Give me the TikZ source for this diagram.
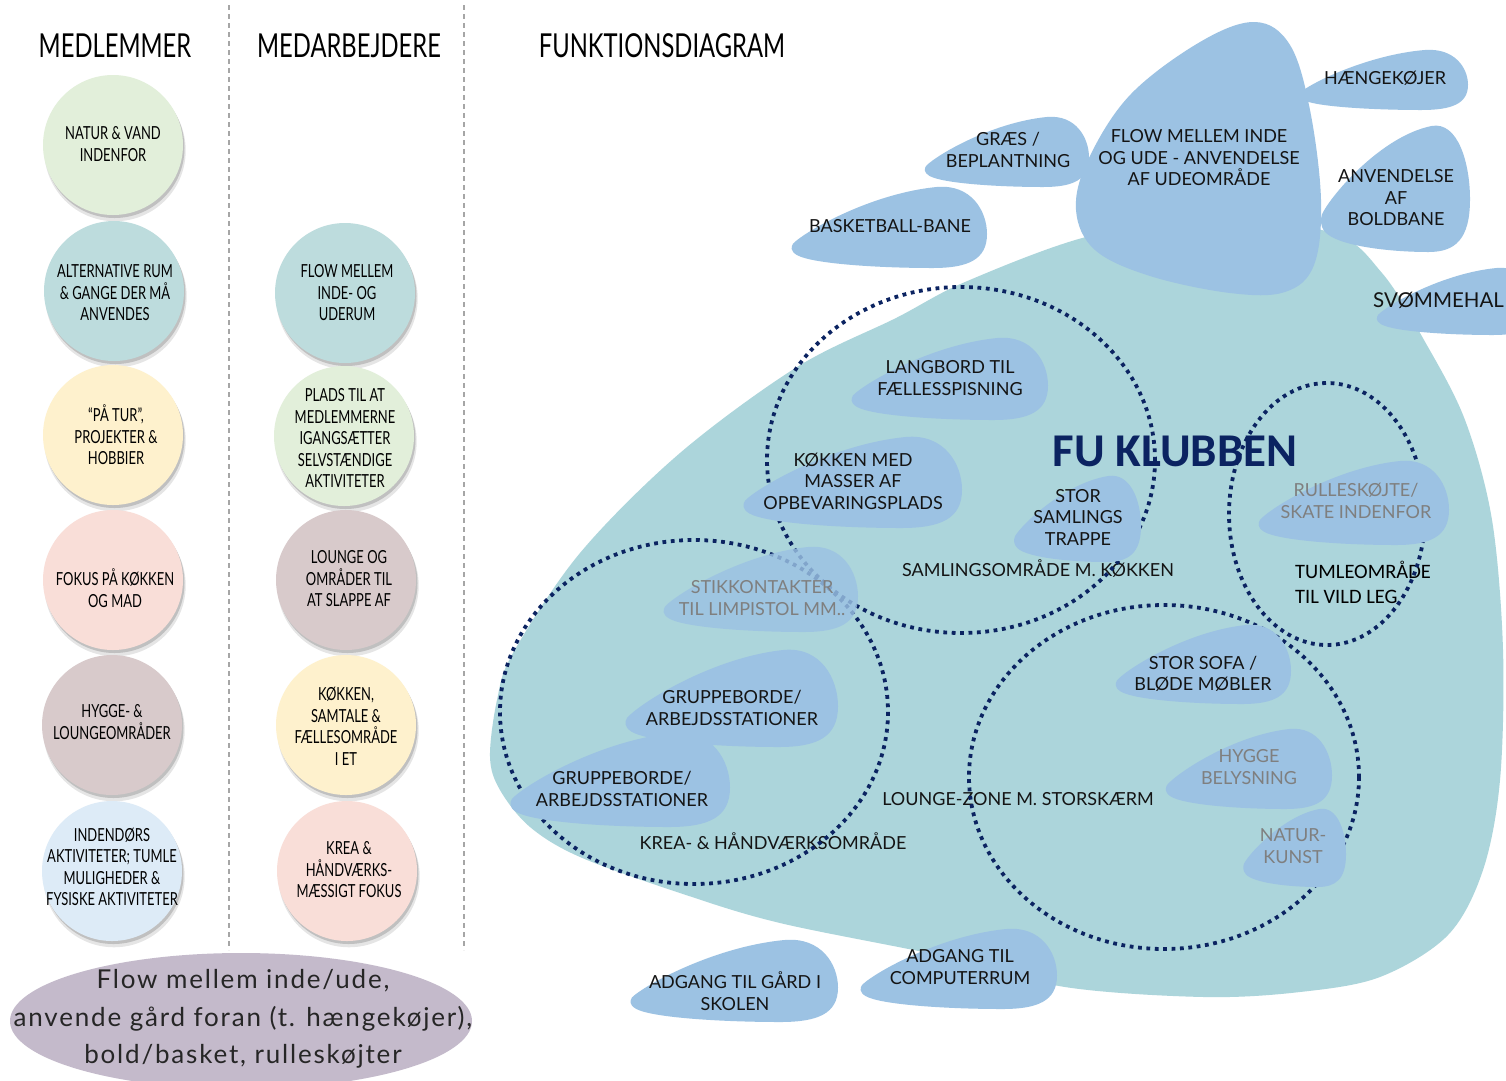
\documentclass[tikz,border=0pt]{standalone}
\usepackage{fontspec}
\setmainfont{Lato}
\newfontfamily\condf[FakeStretch=0.72]{Lato}
\newfontfamily\calf{Carlito}
\newfontfamily\flowf[LetterSpace=7]{Lato}
\usetikzlibrary{shadows,shapes.geometric}
\definecolor{tealbg}{HTML}{ACD5DB}
\definecolor{petalc}{HTML}{9CC2E3}
\definecolor{navy}{HTML}{0B2361}
\definecolor{cgreen}{HTML}{E2EFDA}
\definecolor{cteal}{HTML}{BDDCDD}
\definecolor{cyellow}{HTML}{FEF1CD}
\definecolor{cpink}{HTML}{F9DED8}
\definecolor{cmauve}{HTML}{D8CACB}
\definecolor{cblue}{HTML}{DDEBF7}
\definecolor{cpurple}{HTML}{C4BACB}
\definecolor{graytxt}{HTML}{7F7F7F}
\tikzset{
  petalfill/.style={fill=petalc},
  mcirc/.style={circle, minimum size=140pt, inner sep=0pt,
    general shadow={fill=black, opacity=0.10, shadow xshift=2pt, shadow yshift=-5.5pt, shadow scale=1.01},
    general shadow={fill=black, opacity=0.16, shadow xshift=1.5pt, shadow yshift=-3pt}},
  ctext/.style={font=\condf\fontsize{18}{21.5}\selectfont, align=center, inner sep=0pt, text=black},
  head/.style={font=\condf\fontsize{33}{38}\selectfont, inner sep=0pt, text=black},
  btext/.style={font=\fontsize{18}{21.5}\selectfont, align=center, inner sep=0pt, text=black!92},
  gtext/.style={btext, text=graytxt},
  dotted zone/.style={draw=navy, line width=3.8pt, dash pattern=on 3.8pt off 4.6pt},
  sepline/.style={draw=gray!70, line width=1.3pt, dash pattern=on 5pt off 4pt}
}
\newcommand\petal[5][]{%
  \begin{scope}[shift={(#2,#3)},xscale=#4,yscale=#5]
  \fill[petalfill,#1] (0,0.7) .. controls (0.06,0.55) and (0.4,0.08) .. (0.74,0)
    .. controls (0.92,-0.04) and (1,0.3) .. (1,0.58)
    .. controls (1,0.9) and (0.9,1) .. (0.72,1)
    .. controls (0.45,1) and (0.1,0.95) .. (0.02,0.84)
    .. controls (-0.015,0.79) and (-0.01,0.74) .. (0,0.7) -- cycle;
  \end{scope}}
\begin{document}
\begin{tikzpicture}[x=1pt,y=-1pt]
\useasboundingbox (0,0) rectangle (1506,1080);
\fill[white] (0,0) rectangle (1506,1080);

% separators
\coordinate (s1a) at (229,5); \coordinate (s1b) at (229,950);
\coordinate (s2a) at (464,5); \coordinate (s2b) at (464,950);
\draw[sepline] (s1a) -- (s1b);
\draw[sepline] (s2a) -- (s2b);

% headers
\node[head] (h1) at (115,46) {MEDLEMMER};
\node[head] (h2) at (349,46) {MEDARBEJDERE};
\node[head] (h3) at (662,46) {FUNKTIONSDIAGRAM};

% column 1 circles
\node[mcirc, fill=cgreen] (m1) at (113,145) {};
\node[mcirc, fill=cteal] (m2) at (114,291) {};
\node[mcirc, fill=cyellow] (m3) at (113,435) {};
\node[mcirc, fill=cpink] (m4) at (113,580) {};
\node[mcirc, fill=cmauve] (m5) at (112,725) {};
\node[mcirc, fill=cblue] (m6) at (112,871) {};
\node[ctext] (m1t) at (113,144) {NATUR \& VAND\\INDENFOR};
\node[ctext] (m2t) at (115,293) {ALTERNATIVE RUM\\\& GANGE DER MÅ\\ANVENDES};
\node[ctext] (m3t) at (116,435) {\char"201C PÅ TUR\char"201D,\\PROJEKTER \&\\HOBBIER};
\node[ctext] (m4t) at (115,588) {FOKUS PÅ KØKKEN\\OG MAD};
\node[ctext] (m5t) at (112,722) {HYGGE- \&\\LOUNGEOMRÅDER};
\node[ctext] (m6t) at (112,867) {INDENDØRS\\AKTIVITETER; TUMLE\\MULIGHEDER \&\\FYSISKE AKTIVITETER};

% column 2 circles
\node[mcirc, fill=cteal] (a1) at (345,293) {};
\node[mcirc, fill=cgreen] (a2) at (344,436) {};
\node[mcirc, fill=cmauve] (a3) at (346,580) {};
\node[mcirc, fill=cyellow] (a4) at (346,725) {};
\node[mcirc, fill=cpink] (a5) at (347,871) {};
\node[ctext] (a1t) at (347,293) {FLOW MELLEM\\INDE- OG\\UDERUM};
\node[ctext] (a2t) at (345,438) {PLADS TIL AT\\MEDLEMMERNE\\IGANGSÆTTER\\SELVSTÆNDIGE\\AKTIVITETER};
\node[ctext] (a3t) at (349,579) {LOUNGE OG\\OMRÅDER TIL\\AT SLAPPE AF};
\node[ctext] (a4t) at (346,726) {KØKKEN,\\SAMTALE \&\\FÆLLESOMRÅDE\\I ET};
\node[ctext] (a5t) at (349,870) {KREA \&\\HÅNDVÆRKS-\\MÆSSIGT FOKUS};

% bottom ellipse
\node[ellipse, fill=cpurple, minimum width=462pt, minimum height=136pt, inner sep=0pt] (fl) at (241,1021) {};
\node[font=\flowf\fontsize{26}{37.5}\selectfont, align=center, inner sep=0pt, text=black!85] (flt) at (243,1019)
  {Flow mellem inde/ude,\\anvende gård foran (t. hængekøjer),\\bold/basket, rulleskøjter};

% big teal area
\fill[tealbg] plot[smooth cycle, tension=0.55] coordinates {
 (490,757) (497,700) (513,653) (580,553) (680,453) (797,367) (896,318) (965,282)
 (1086,237) (1200,222) (1330,232) (1382,273) (1424,340) (1465,420) (1492,520)
 (1503,650) (1500,780) (1483,870) (1448,935) (1380,977) (1300,992) (1204,997)
 (1065,987) (947,957) (780,923) (680,893) (580,857) (530,827) (500,790)};

% zone labels
\node[btext] (zs) at (1038,569) {SAMLINGSOMRÅDE M. KØKKEN};
\node[btext] (zk) at (773,841) {KREA- \& HÅNDVÆRKSOMRÅDE};
\node[btext] (zl) at (1018,799) {LOUNGE-ZONE M. STORSKÆRM};
\node[font=\calf\fontsize{20.5}{25}\selectfont, align=left, anchor=west, inner sep=0pt, text=black] (zt) at (1295,582) {TUMLEOMRÅDE\\TIL VILD LEG};
\node[font=\calf\bfseries\fontsize{47}{50}\selectfont, text=navy, inner sep=0pt] (fu) at (1175,451) {FU KLUBBEN};

% dotted zones
\draw[dotted zone] (961,460) ellipse [x radius=194, y radius=173];
\draw[dotted zone] (694,712) ellipse [x radius=194, y radius=172];
\draw[dotted zone] (1327,514) ellipse [x radius=98, y radius=131];
\draw[dotted zone] (1164,777) ellipse [x radius=195, y radius=172];

% top petals
\fill[petalc] plot[smooth cycle, tension=0.6] coordinates {
 (1255,22) (1290,45) (1310,110) (1321,200) (1314,265) (1285,292) (1230,293)
 (1150,276) (1095,250) (1076,210) (1088,160) (1130,95) (1200,42)};
\petal{1301}{50}{167}{60}
\petal{926}{117}{163}{70}
\petal{793}{187}{194}{81}
\petal{1322}{126}{148}{126}
\petal{1378}{268}{160}{67}

% inner petals
\petal{853}{338}{195}{82}
\petal{745}{437}{217}{91}
\petal{1015}{476}{126}{86}
\petal[fill opacity=0.82]{665}{547}{193}{85}
\petal{627}{650}{211}{97}
\petal{512}{733}{218}{94}
\petal{1260}{461}{189}{84}
\petal{1117}{625}{174}{79}
\petal{1167}{729}{165}{80}
\petal{1244}{809}{102}{78}
\petal{632}{940}{206}{82}
\petal{862}{929}{195}{80}

% petal texts
\node[btext] (p1) at (1385,78) {HÆNGEKØJER};
\node[btext] (p2) at (1008,150) {GRÆS /\\BEPLANTNING};
\node[btext] (p3) at (1199,158) {FLOW MELLEM INDE\\OG UDE - ANVENDELSE\\AF UDEOMRÅDE};
\node[btext] (p4) at (890,226) {BASKETBALL-BANE};
\node[btext] (p5) at (1396,198) {ANVENDELSE\\AF\\BOLDBANE};
\node[btext, anchor=west, font=\fontsize{20.5}{24}\selectfont] (p6) at (1373,300) {SVØMMEHAL};
\node[btext] (p7) at (950,378) {LANGBORD TIL\\FÆLLESSPISNING};
\node[btext] (p8) at (853,481) {KØKKEN MED\\MASSER AF\\OPBEVARINGSPLADS};
\node[btext] (p9) at (1078,517) {STOR\\SAMLINGS\\TRAPPE};
\node[gtext] (p10) at (762,598) {STIKKONTAKTER\\TIL LIMPISTOL MM..};
\node[btext] (p11) at (732,708) {GRUPPEBORDE/\\ARBEJDSSTATIONER};
\node[btext] (p12) at (622,789) {GRUPPEBORDE/\\ARBEJDSSTATIONER};
\node[gtext] (p13) at (1356,501) {RULLESKØJTE/\\SKATE INDENFOR};
\node[btext] (p14) at (1203,674) {STOR SOFA /\\BLØDE MØBLER};
\node[gtext] (p15) at (1249,767) {HYGGE\\BELYSNING};
\node[gtext] (p16) at (1293,846) {NATUR-\\KUNST};
\node[btext] (p17) at (735,991) {ADGANG TIL GÅRD I\\SKOLEN};
\node[btext] (p18) at (960,967) {ADGANG TIL\\COMPUTERRUM};
\end{tikzpicture}
\end{document}
